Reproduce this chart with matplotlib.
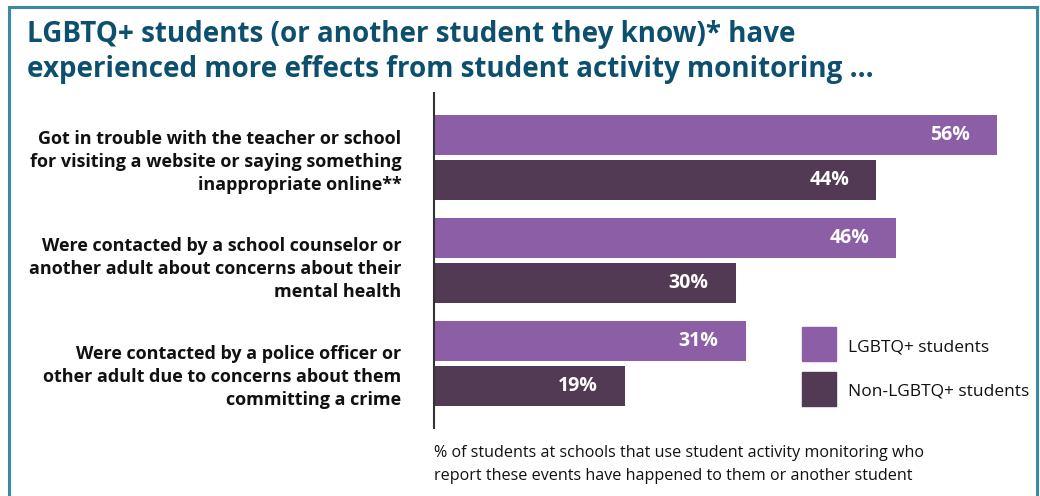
import matplotlib.pyplot as plt
from matplotlib.patches import Rectangle

plt.rcParams['font.family'] = ['Open Sans', 'DejaVu Sans']

categories = [
    "Got in trouble with the teacher or school\nfor visiting a website or saying something\ninappropriate online**",
    "Were contacted by a school counselor or\nanother adult about concerns about their\nmental health",
    "Were contacted by a police officer or\nother adult due to concerns about them\ncommitting a crime",
]
series_names = ["LGBTQ+ students", "Non-LGBTQ+ students"]
lgbtq = [56, 46, 31]
non_lgbtq = [44, 30, 19]

title = ("LGBTQ+ students (or another student they know)* have\n"
         "experienced more effects from student activity monitoring ...")
note = ("% of students at schools that use student activity monitoring who\n"
        "report these events have happened to them or another student")

c_lgbtq = "#8c5ea6"
c_non = "#533a54"
c_title = "#0d4f6e"
c_border = "#3a8aa3"

W, H = 1040, 496
fig = plt.figure(figsize=(W / 100, H / 100), dpi=100)

# teal frame (top, left, right)
fig.add_artist(plt.Line2D([9 / W, 9 / W], [0, 1 - 7 / H], color=c_border, lw=2.2, transform=fig.transFigure))
fig.add_artist(plt.Line2D([1037 / W, 1037 / W], [0, 1 - 7 / H], color=c_border, lw=2.2, transform=fig.transFigure))
fig.add_artist(plt.Line2D([9 / W, 1037 / W], [1 - 7 / H, 1 - 7 / H], color=c_border, lw=2.2, transform=fig.transFigure))

fig.text(27 / W, 1 - 20 / H, title, ha="left", va="top", fontsize=20, fontweight="bold",
         color=c_title, linespacing=1.28)

ax = fig.add_axes([434 / W, 68 / H, 603 / W, 335 / H])
ax.set_xlim(0, 60)
ax.set_ylim(2.626, -0.626)

h = 40 / 103
off = 22.5 / 103
ys = list(range(len(categories)))

b1 = ax.barh([y - off for y in ys], lgbtq, height=h, color=c_lgbtq, label=series_names[0])
b2 = ax.barh([y + off for y in ys], non_lgbtq, height=h, color=c_non, label=series_names[1])

for bars, vals in ((b1, lgbtq), (b2, non_lgbtq)):
    for bar, v in zip(bars, vals):
        ax.text(v - 2.7, bar.get_y() + bar.get_height() / 2, f"{v}%", ha="right", va="center",
                color="white", fontsize=14, fontweight="bold")

for i, cat in enumerate(categories):
    ax.text(-3.25, i * 1.044 + 0.04, cat, ha="right", va="center", fontsize=13,
            fontweight="bold", color="#111111", linespacing=1.35)

for s in ["top", "right", "bottom"]:
    ax.spines[s].set_visible(False)
ax.spines["left"].set_color("#333333")
ax.spines["left"].set_linewidth(1.5)
ax.set_xticks([])
ax.set_yticks([])

# legend
for k, (name, col) in enumerate(zip(series_names, [c_lgbtq, c_non])):
    y0 = 1 - (327 + 45 * k + 34) / H
    fig.add_artist(Rectangle((802 / W, y0), 34 / W, 34 / H, color=col, transform=fig.transFigure))
    fig.text(848 / W, y0 + 14 / H, name, ha="left", va="center", fontsize=12.5, color="#111111")

fig.text(434 / W, 1 - 445 / H, note, ha="left", va="top", fontsize=11.6, color="#111111",
         linespacing=1.6)

fig.savefig("out.png", dpi=100)
